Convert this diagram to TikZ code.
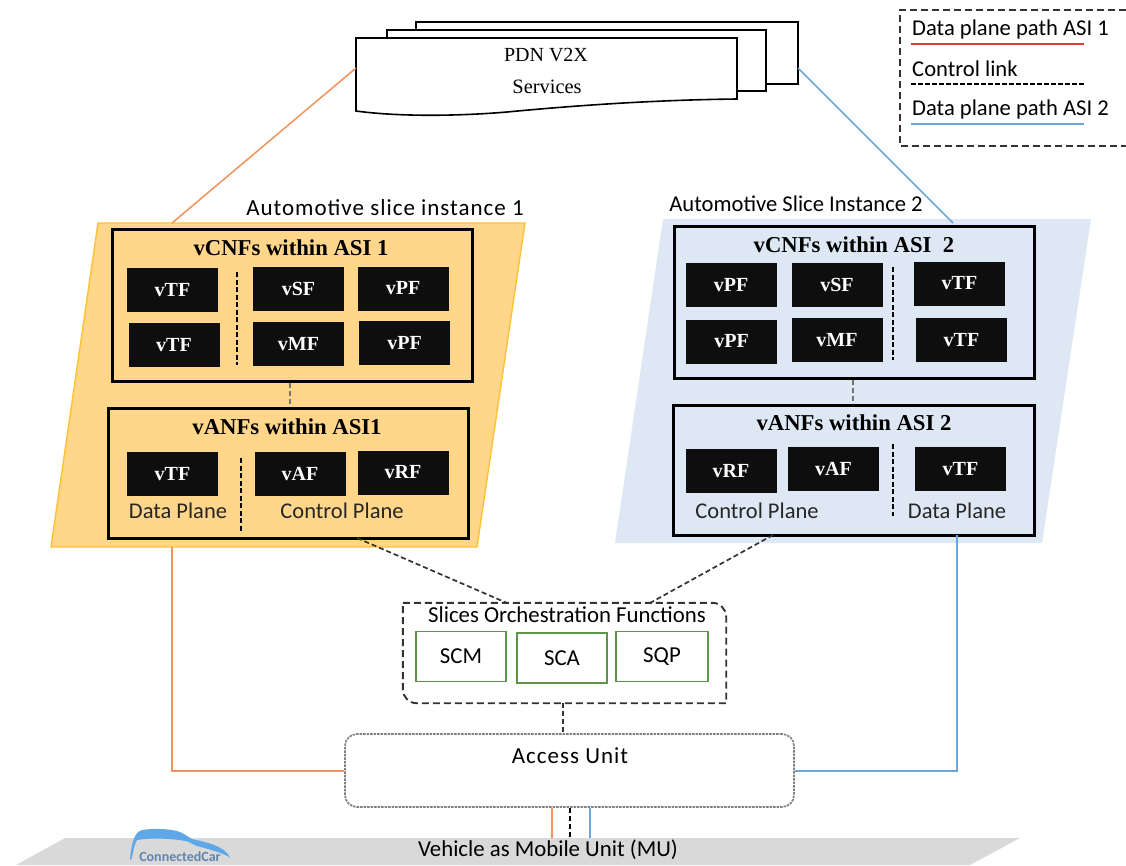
\documentclass[tikz,border=0pt]{standalone}
\usepackage{fontspec}
\setmainfont{Carlito}
\newfontfamily\timesf{Liberation Serif}
\newcommand{\widetext}{\fontsize{23}{25}\selectfont\addfontfeature{LetterSpace=4.3}}
\definecolor{asione}{HTML}{FFD68A}
\definecolor{asionedge}{HTML}{FFC233}
\definecolor{asitwo}{HTML}{DEE8F4}
\definecolor{pathone}{HTML}{F2935C}
\definecolor{pathtwo}{HTML}{6CA6DC}
\definecolor{vfblack}{HTML}{0E0E0E}
\definecolor{orchgreen}{HTML}{5E9448}
\definecolor{floorgray}{HTML}{D9D9D9}
\definecolor{carblue}{HTML}{5FA8E8}
\definecolor{cartext}{HTML}{5F86B0}
\definecolor{legred}{HTML}{DD3C3C}
\tikzset{
  vfbox/.style={fill=vfblack,text=white,font=\timesf\bfseries\fontsize{20}{22}\selectfont,minimum width=91,minimum height=44,inner sep=0},
  groupbox/.style={draw=black,line width=3pt,minimum width=360,inner sep=0},
  grouptitle/.style={font=\timesf\bfseries\fontsize{22.7}{25}\selectfont,inner sep=0},
  planelabel/.style={font=\fontsize{22.5}{25}\selectfont,text=black!85,inner sep=0},
  slicelabel/.style={font=\fontsize{22.6}{25}\selectfont,inner sep=0},
  orchbox/.style={draw=orchgreen,line width=1.2pt,font=\fontsize{22.8}{25}\selectfont,minimum width=90,minimum height=50,inner sep=0},
  legtext/.style={anchor=west,font=\fontsize{22.6}{25}\selectfont,inner sep=0},
  docpage/.style={draw=black,line width=1.6pt,fill=white},
  pathonel/.style={draw=pathone,line width=1.5pt},
  pathtwol/.style={draw=pathtwo,line width=1.5pt},
  ctrl/.style={draw=black!80,line width=1.7pt,dash pattern=on 5pt off 3pt},
  innerdash/.style={draw=black,line width=1.2pt,dash pattern=on 5pt off 2.5pt}
}
\begin{document}
\begin{tikzpicture}[x=1pt,y=-1pt]
    \useasboundingbox (0,0) rectangle (1126,865);
    % PDN pages
    \draw[docpage] (416,22)--(798,22)--(798,84)--(416,84)--cycle;
    \draw[docpage] (387,30)--(766,30)--(766,91)--(387,91)--cycle;
    \draw[docpage] (356,38)--(737,38)--(737,99) .. controls (650,100) and (570,106) .. (507,112) .. controls (460,116) and (400,117) .. (356,111)--cycle;
    \node[font=\timesf\fontsize{20}{22}\selectfont,inner sep=0] (pdn) at (546,55) {PDN V2X};
    \node[font=\timesf\fontsize{20.4}{22}\selectfont,inner sep=0] (services) at (547,87) {Services};
    \coordinate (pdnleft) at (356,68);
    \coordinate (pdnright) at (798,68);
    % legend
    \draw[dash pattern=on 7pt off 4pt,line width=1.6pt,draw=black!80] (1126,10)--(900,10)--(900,146)--(1126,146);
    \node[legtext] (legone) at (912,29) {Data plane path ASI 1};
    \node[legtext] (legctrl) at (912,69) {Control link};
    \node[legtext] (legtwo) at (912,109) {Data plane path ASI 2};
    \coordinate (legstart) at (911,0);
    \coordinate (legend) at (1084,0);
    \draw[draw=legred,line width=1.5pt] (legstart |- 0,44)--(legend |- 0,44);
    \draw[draw=black,line width=1.3pt,dash pattern=on 5pt off 2pt] (legstart |- 0,84)--(legend |- 0,84);
    \draw[pathtwol] (legstart |- 0,124)--(legend |- 0,124);
    % slice instances
    \filldraw[fill=asione,draw=asionedge,line width=1.4pt] (98,223)--(525,223)--(477,547)--(51,547)--cycle;
    \fill[asitwo] (663,219)--(1091,219)--(1042,543)--(615,543)--cycle;
    \node[font=\widetext,inner sep=0] (sliceone) at (385,208) {Automotive slice instance 1};
    \node[slicelabel] (slicetwo) at (796,204) {Automotive Slice Instance 2};
    \coordinate (onetop) at (172,223);
    \coordinate (onebot) at (172,547);
    \coordinate (twotop) at (953,223);
    \coordinate (twobot) at (957,535);
    % ASI 1
    \node[groupbox,minimum height=152] (cnfone) at (292,305) {};
    \node[groupbox,minimum height=130] (anfone) at (288,473) {};
    \node[grouptitle] (cnfonet) at (291,248) {vCNFs within ASI 1};
    \node[grouptitle] (anfonet) at (287,427) {vANFs within ASI1};
    \node[vfbox] (tfa) at (172.5,290) {vTF};
    \node[vfbox] (tfb) at (174,345) {vTF};
    \node[vfbox] (sfa) at (298.5,288.5) {vSF};
    \node[vfbox] (pfa) at (403,288.5) {vPF};
    \node[vfbox] (mfa) at (298.5,344) {vMF};
    \node[vfbox] (pfb) at (404.5,343) {vPF};
    \node[vfbox] (tfc) at (172.5,474) {vTF};
    \node[vfbox] (afa) at (300,474) {vAF};
    \node[vfbox] (rfa) at (403,472.5) {vRF};
    \node[planelabel] (dpa) at (178,511) {Data Plane};
    \node[planelabel] (cpa) at (342,511) {Control Plane};
    \draw[innerdash] (237,272)--(237,365);
    \draw[innerdash] (241,458)--(241,531);
    \draw[ctrl,draw=black!55] ([xshift=-2pt]cnfone.south)--([xshift=2pt]anfone.north);
    % ASI 2
    \node[groupbox,minimum height=152] (cnftwo) at (854.5,302) {};
    \node[groupbox,minimum height=130,minimum width=361] (anftwo) at (853.5,470) {};
    \node[grouptitle] (cnftwot) at (854,245) {vCNFs within ASI~~2};
    \node[grouptitle] (anftwot) at (854,423) {vANFs within ASI 2};
    \node[vfbox] (pfc) at (731,285) {vPF};
    \node[vfbox] (sfb) at (837,285) {vSF};
    \node[vfbox] (tfd) at (959.5,283.5) {vTF};
    \node[vfbox] (pfd) at (731.5,341.5) {vPF};
    \node[vfbox] (mfb) at (837,340) {vMF};
    \node[vfbox] (tfe) at (961.5,340) {vTF};
    \node[vfbox] (rfb) at (731,471) {vRF};
    \node[vfbox] (afb) at (833.5,469) {vAF};
    \node[vfbox] (tff) at (960.5,469) {vTF};
    \node[planelabel] (cpb) at (757,511) {Control Plane};
    \node[planelabel] (dpb) at (957,511) {Data Plane};
    \draw[innerdash] (893,267)--(893,360);
    \draw[innerdash] (893,444)--(893,516);
    \draw[ctrl,draw=black!55] ([xshift=-1.5pt]cnftwo.south)--([xshift=-0.5pt]anftwo.north);
    % orchestration
    \node[minimum width=323,minimum height=100,inner sep=0] (orch) at (564.5,653) {};
    \draw[ctrl,line width=1.9pt,dash pattern=on 7pt off 4pt] (orch.north west)--([xshift=-14pt]orch.north east) arc (90:0:14pt)--(orch.south east)--([xshift=14pt]orch.south west) arc (270:180:14pt)--cycle;
    \node[font=\fontsize{22.8}{25}\selectfont,inner sep=0] (orcht) at (567,615) {Slices Orchestration Functions};
    \node[orchbox] (scm) at (461,656.5) {SCM};
    \node[orchbox] (sca) at (562,658) {SCA};
    \node[orchbox,minimum width=92] (sqp) at (662,656.5) {SQP};
    % access unit and floor
    \node[draw=black!50,line width=1.7pt,dash pattern=on 2.5pt off 1pt,rounded corners=12pt,minimum width=449,minimum height=73,inner sep=0] (access) at (569.5,770.5) {};
    \node[font=\widetext,inner sep=0] (accesst) at (570,756) {Access Unit};
    \fill[floorgray] (65,838)--(1020,838)--(970,865)--(16,865)--cycle;
    \node[font=\fontsize{22.8}{25}\selectfont,inner sep=0] (mu) at (548,850) {Vehicle as Mobile Unit (MU)};
    \coordinate (floortop) at (570,838);
    % car logo
    \fill[carblue] (130,860) .. controls (131,845) and (134,832) .. (142,830) .. controls (155,828) and (168,829) .. (177,831) .. controls (184,833) and (188,837) .. (192,839) .. controls (205,842) and (226,846) .. (230,858) .. controls (226,854) and (212,850) .. (197,846) .. controls (190,843) and (188,841) .. (185,841) .. controls (170,838) and (148,838) .. (137,840) .. controls (134,845) and (133,852) .. (132,858)--cycle;
    \node[font=\bfseries\fontsize{14}{15}\selectfont,text=cartext,inner sep=0] (car) at (180,857) {ConnectedCar};
    % links
    \draw[pathonel] (pdnleft)--(onetop);
    \draw[pathtwol] (pdnright)--(twotop);
    \draw[pathonel] (onebot)--(onebot |- 0,771)--(access.west |- 0,771);
    \draw[pathtwol] (twobot)--(twobot |- 0,771)--(access.east |- 0,771);
    \coordinate (ctrlone) at (357,538);
    \coordinate (ctrlonein) at (507,603);
    \coordinate (ctrltwo) at (773,535);
    \coordinate (ctrltwoin) at (650,603);
    \draw[ctrl] (ctrlone)--(ctrlonein);
    \draw[ctrl] (ctrltwo)--(ctrltwoin);
    \draw[ctrl] ([xshift=-1.5pt]orch.south)--([xshift=-6.5pt]access.north);
    \draw[pathonel] ([xshift=-17.5pt]access.south)--([xshift=-18pt]floortop);
    \draw[ctrl,draw=black] ([xshift=0.5pt]access.south)--(floortop);
    \draw[pathtwol] ([xshift=20.5pt]access.south)--([xshift=20pt]floortop);
\end{tikzpicture}
\end{document}
